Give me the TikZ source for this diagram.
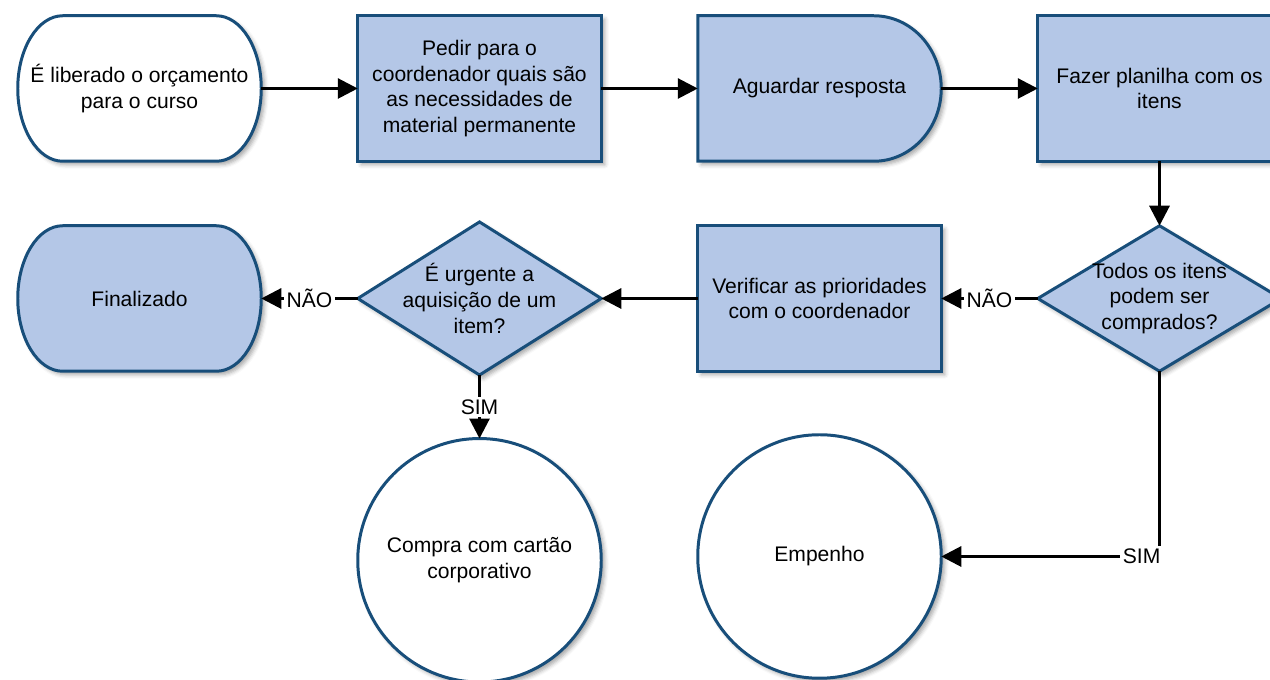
\documentclass[tikz,border=0pt]{standalone}
\usepackage{fontspec}
\setmainfont{Liberation Sans}
\usetikzlibrary{calc}
\usetikzlibrary{positioning}
\usetikzlibrary{shapes.geometric}
\usetikzlibrary{arrows.meta}
\usetikzlibrary{backgrounds}
\usetikzlibrary{shadows.blur}
\definecolor{custom-blue}{RGB}{180, 199, 231}
\definecolor{custom-navy}{RGB}{24, 78, 122}

\tikzset{
    soft-shadow/.style={blur shadow={shadow xshift=0.07cm, shadow yshift=-0.07cm, shadow blur radius=0.08cm, shadow opacity=35}},
    outline/.style={draw=custom-navy, line width=1.7pt, soft-shadow},
    proc/.style={outline, fill=custom-blue, rectangle, minimum width=4.87cm, minimum height=2.91cm, align=center, inner sep=2pt, outer sep=0pt},
    term/.style={rectangle, minimum width=4.87cm, minimum height=2.91cm, align=center, inner sep=2pt, outer sep=0pt},
    decision/.style={outline, fill=custom-blue, diamond, minimum width=4.87cm, minimum height=2.91cm, align=center, inner sep=-10pt, outer sep=0pt},
    endcircle/.style={outline, fill=white, circle, minimum size=4.87cm, align=center, inner sep=2pt, outer sep=0pt},
    flow/.style={draw=black, line width=1.7pt, -{Triangle[length=0.4cm, width=0.4cm]}},
    lbl/.style={fill=white, inner sep=1.5pt}
}

\begin{document}
\begin{tikzpicture}[font=\fontsize{12}{14.6}\selectfont]
    \useasboundingbox (0, 0) rectangle (25.4, 13.6);
    % first row
    \node[term] (inicio) at (2.79, 11.83) {É liberado o orçamento\\para o curso};
    \node[proc, right=1.93cm of inicio] (pedir) {Pedir para o\\coordenador quais são\\as necessidades de\\material permanente};
    \node[term, right=1.93cm of pedir] (aguardar) {Aguardar resposta};
    \node[proc, right=1.93cm of aguardar] (planilha) {Fazer planilha com os\\itens};
    % second row
    \node[proc, below=1.29cm of aguardar] (verificar) {Verificar as prioridades\\com o coordenador};
    \node[decision, right=1.93cm of verificar] (todos) {Todos os itens\\podem ser\\comprados?};
    \node[decision, left=1.93cm of verificar] (urgente) {É urgente a\\aquisição de um\\item?};
    \node[term, left=1.93cm of urgente] (fim) {Finalizado};
    % third row
    \node[endcircle, below=1.27cm of urgente] (cartao) {Compra com cartão\\corporativo};
    \node[endcircle, below=1.27cm of verificar] (empenho) {Empenho};
    % outlines of the terminals and the delay
    \begin{pgfonlayer}{background}
        \foreach \n/\c in {inicio/white, fim/custom-blue} {
            \draw[outline, fill=\c] ([xshift=0.9cm]\n.north west) -- ([xshift=-0.9cm]\n.north east)
                arc[start angle=90, end angle=-90, x radius=0.9cm, y radius=1.455cm]
                -- ([xshift=0.9cm]\n.south west)
                arc[start angle=270, end angle=90, x radius=0.9cm, y radius=1.455cm] -- cycle;
        }
        \draw[outline, fill=custom-blue] (aguardar.north west) -- ([xshift=-1.35cm]aguardar.north east)
            arc[start angle=90, end angle=-90, x radius=1.35cm, y radius=1.455cm]
            -- (aguardar.south west) -- cycle;
    \end{pgfonlayer}
    % connectors
    \draw[flow] (inicio) -- (pedir);
    \draw[flow] (pedir) -- (aguardar);
    \draw[flow] (aguardar) -- (planilha);
    \draw[flow] (planilha) -- (todos);
    \draw[flow] (todos) -- node[lbl]{NÃO} (verificar);
    \draw[flow] (verificar) -- (urgente);
    \draw[flow] (urgente) -- node[lbl]{NÃO} (fim);
    \draw[flow] (urgente) -- node[lbl]{SIM} (cartao);
    \draw[flow] (todos) |- node[lbl, pos=0.5, anchor=east, xshift=0.1cm]{SIM} (empenho);
\end{tikzpicture}
\end{document}
